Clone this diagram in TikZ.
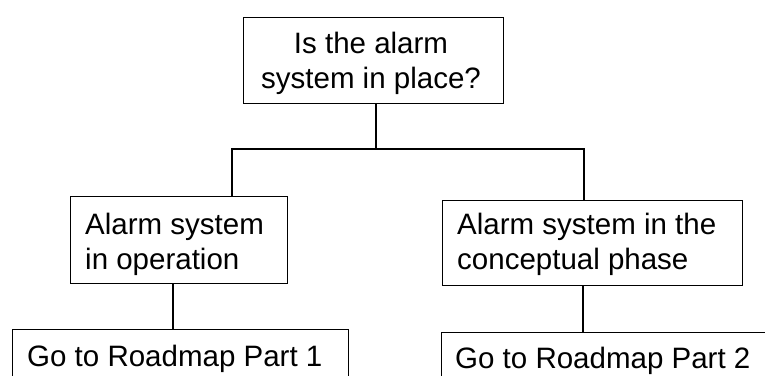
\documentclass[tikz,border=0pt]{standalone}
\usepackage{fontspec}
\setmainfont{Liberation Sans}
\usetikzlibrary{calc}
\begin{document}
\begin{tikzpicture}[x=1pt, y={(0,-1pt)},
  box/.style={draw=black, line width=1.3pt, inner sep=0pt, anchor=north west},
  txt/.style={font=\fontsize{29.5}{35}\selectfont, inner sep=0pt, anchor=north west, align=left},
  link/.style={draw=black, line width=1.3pt}]
  \clip (0,0) rectangle (765,375);
  \fill[white] (0,0) rectangle (765,375);

  % boxes
  \node[box, minimum width=260pt, minimum height=86pt] (q) at (243,17) {};
  \node[box, minimum width=217pt, minimum height=87pt] (a) at (70,196) {};
  \node[box, minimum width=300pt, minimum height=85pt] (b) at (442,200) {};
  \node[box, minimum width=336pt, minimum height=70pt] (c) at (12,329) {};
  \node[box, minimum width=340pt, minimum height=70pt] (d) at (441,332) {};

  % labels
  \node[txt, anchor=north, align=center] (qt) at (371,32) {Is the alarm\\system in place?};
  \node[txt] (at) at (85,213) {Alarm system\\in operation};
  \node[txt] (bt) at (457,213) {Alarm system in the\\conceptual phase};
  \node[txt] (ct) at (27,345) {Go to Roadmap Part 1};
  \node[txt] (dt) at (455,347) {Go to Roadmap Part 2};

  % junction points of the tree
  \coordinate (jm) at (376,149);
  \coordinate (jl) at (232,149);
  \coordinate (jr) at (584,149);
  \coordinate (xl) at (173,0);
  \coordinate (xr) at (583,0);

  % connectors
  \draw[link] (jm |- q.south) -- (jm);
  \draw[link] (jl |- a.north) -- (jl) -- (jr) -- (jr |- b.north);
  \draw[link] (xl |- a.south) -- (xl |- c.north);
  \draw[link] (xr |- b.south) -- (xr |- d.north);
\end{tikzpicture}
\end{document}
